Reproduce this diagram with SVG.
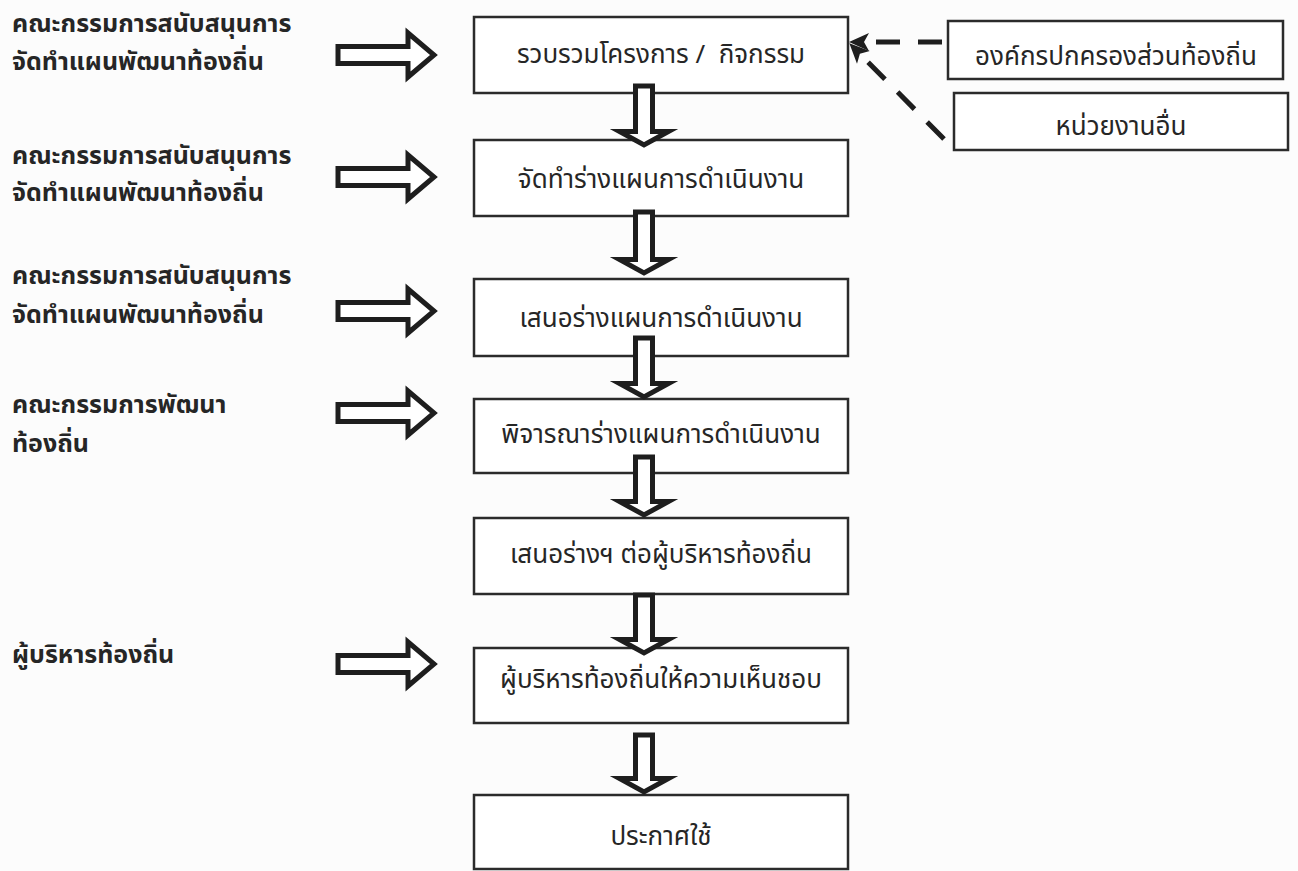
<svg xmlns="http://www.w3.org/2000/svg" width="1298" height="871" viewBox="0 0 1298 871">
<style>
.bg{fill:#fcfcfc}
.box{fill:#ffffff;stroke:#2b2b2b;stroke-width:2.5}
.t{font-family:"Noto Sans Thai","Noto Sans Thai UI","Tahoma","Noto Sans",sans-serif;font-size:26px;fill:#262626;text-anchor:middle}
.lbl{font-family:"Noto Sans Thai","Noto Sans Thai UI","Tahoma","Noto Sans",sans-serif;font-size:25px;font-weight:bold;fill:#262626}
.fat{fill:#ffffff;stroke:#1e1e1e;stroke-width:5;stroke-linejoin:miter;stroke-miterlimit:10}
.dash{fill:none;stroke:#1e1e1e;stroke-width:5;stroke-dasharray:24 18}
</style>
<defs>
<path id="harrow" class="fat" d="M338,-8.5 H408 V-22 L434,0 L408,22 V8.5 H338 Z"/>
<marker id="ah" markerUnits="userSpaceOnUse" markerWidth="22" markerHeight="22" viewBox="0 0 22 22" refX="3" refY="11" orient="auto">
<path d="M21,11 L1,2 L6,11 L1,20 Z" fill="#1e1e1e"/>
</marker>
</defs>
<rect class="bg" x="0" y="0" width="1298" height="871"/>

<g id="label1"><text class="lbl" x="12" y="32">คณะกรรมการสนับสนุนการ</text><text class="lbl" x="12" y="70">จัดทำแผนพัฒนาท้องถิ่น</text></g>
<g id="label2"><text class="lbl" x="12" y="164">คณะกรรมการสนับสนุนการ</text><text class="lbl" x="12" y="201">จัดทำแผนพัฒนาท้องถิ่น</text></g>
<g id="label3"><text class="lbl" x="12" y="284">คณะกรรมการสนับสนุนการ</text><text class="lbl" x="12" y="323">จัดทำแผนพัฒนาท้องถิ่น</text></g>
<g id="label4"><text class="lbl" x="12" y="413">คณะกรรมการพัฒนา</text><text class="lbl" x="12" y="452">ท้องถิ่น</text></g>
<g id="label5"><text class="lbl" x="12" y="663">ผู้บริหารท้องถิ่น</text></g>

<g id="step1"><rect class="box" x="474" y="17" width="374" height="76"/><text class="t" x="661" y="63" xml:space="preserve">รวบรวมโครงการ /  กิจกรรม</text></g>
<g id="step2"><rect class="box" x="474" y="140" width="374" height="76"/><text class="t" x="661" y="188">จัดทำร่างแผนการดำเนินงาน</text></g>
<g id="step3"><rect class="box" x="474" y="279" width="374" height="77"/><text class="t" x="661" y="327">เสนอร่างแผนการดำเนินงาน</text></g>
<g id="step4"><rect class="box" x="474" y="399" width="374" height="74"/><text class="t" x="661" y="443">พิจารณาร่างแผนการดำเนินงาน</text></g>
<g id="step5"><rect class="box" x="474" y="518" width="374" height="76"/><text class="t" x="661" y="563">เสนอร่างฯ ต่อผู้บริหารท้องถิ่น</text></g>
<g id="step6"><rect class="box" x="474" y="648" width="374" height="75"/><text class="t" x="661" y="688">ผู้บริหารท้องถิ่นให้ความเห็นชอบ</text></g>
<g id="step7"><rect class="box" x="474" y="795" width="374" height="74"/><text class="t" x="661" y="845">ประกาศใช้</text></g>

<g id="org"><rect class="box" x="948" y="21" width="335" height="58"/><text class="t" x="1116" y="65">องค์กรปกครองส่วนท้องถิ่น</text></g>
<g id="other"><rect class="box" x="954" y="93" width="334" height="57"/><text class="t" x="1121" y="135">หน่วยงานอื่น</text></g>

<g id="connectors">
<use href="#harrow" y="55"/>
<use href="#harrow" y="177"/>
<use href="#harrow" y="311"/>
<use href="#harrow" y="413"/>
<use href="#harrow" y="664"/>
<path class="fat" d="M635.5,86 V131.5 H619.5 L644,145 L668.5,131.5 H652.5 V86 Z"/>
<path class="fat" d="M635.5,212 V259.5 H619.5 L644,273 L668.5,259.5 H652.5 V212 Z"/>
<path class="fat" d="M635.5,338 V383.5 H619.5 L644,397 L668.5,383.5 H652.5 V338 Z"/>
<path class="fat" d="M635.5,457 V501.5 H619.5 L644,515 L668.5,501.5 H652.5 V457 Z"/>
<path class="fat" d="M635.5,595 V639.5 H619.5 L644,653 L668.5,639.5 H652.5 V595 Z"/>
<path class="fat" d="M635.5,735 V778.5 H619.5 L644,792 L668.5,778.5 H652.5 V735 Z"/>
<line class="dash" x1="942" y1="42" x2="867" y2="42" marker-end="url(#ah)"/>
<line class="dash" x1="944" y1="139" x2="862" y2="56" marker-end="url(#ah)"/>
</g>
</svg>
